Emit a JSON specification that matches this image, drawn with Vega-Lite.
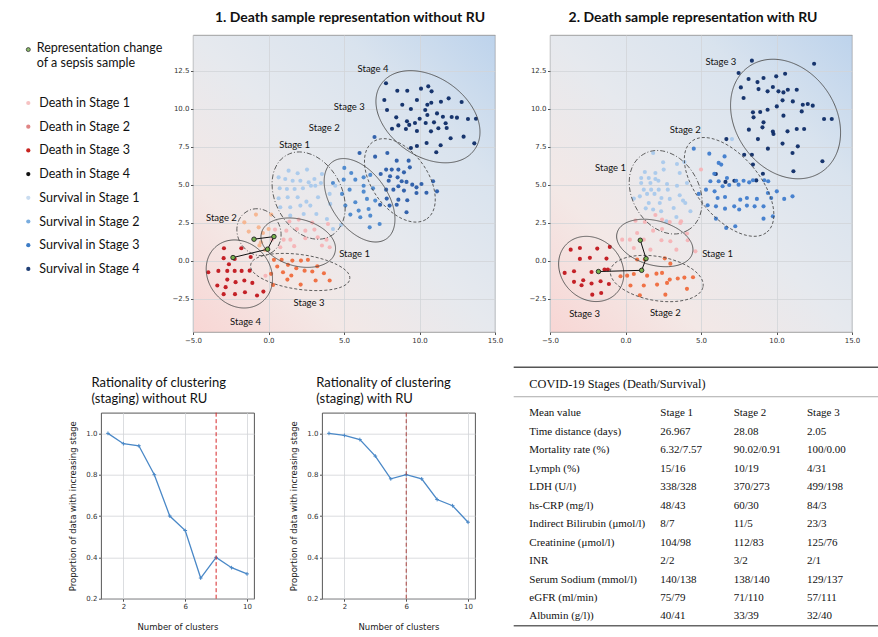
{
"$schema": "https://vega.github.io/schema/vega-lite/v6.json",
"padding": {"left": 20, "top": 10, "right": 0, "bottom": 0},
"background": "white",
"spacing": 12.7,
"resolve": {"scale": {"color": "independent", "shape": "independent", "strokeDash": "independent", "x": "independent", "y": "independent"}},
"config": {
  "view": {"stroke": null},
  "font": "Lato",
  "axis": {"labelFont": "DejaVu Sans", "labelFontSize": 7, "labelColor": "#333", "tickColor": "#555", "tickSize": 2.5, "labelPadding": 1.5, "domain": false, "grid": true, "gridColor": "#d2d4d8", "gridWidth": 0.8, "labelFlush": false, "labelOverlap": false, "titleFont": "DejaVu Sans", "titleFontSize": 8.5, "titleFontWeight": "normal", "titleColor": "#222"},
  "title": {"font": "Lato", "color": "#111", "frame": "group"}
},
"datasets": {
  "leg": [{"k":"Death in Stage 1"},{"k":"Death in Stage 2"},{"k":"Death in Stage 3"},{"k":"Death in Stage 4"},{"k":"Survival in Stage 1"},{"k":"Survival in Stage 2"},{"k":"Survival in Stage 3"},{"k":"Survival in Stage 4"}],
  "p1": [
{"k":"S4","x":7.78,"y":11.67},{"k":"S4","x":8.53,"y":11.18},{"k":"S4","x":9.19,"y":11.18},{"k":"S4","x":10.1,"y":11.32},{"k":"S4","x":10.58,"y":11.47},{"k":"S4","x":10.8,"y":11.14},{"k":"S4","x":7.67,"y":10.57},{"k":"S4","x":8.86,"y":10.26},{"k":"S4","x":9.83,"y":10.57},{"k":"S4","x":10.52,"y":10.26},{"k":"S4","x":10.78,"y":10.39},{"k":"S4","x":11.42,"y":10.46},{"k":"S4","x":11.93,"y":10.68},{"k":"S4","x":12.79,"y":10.44},{"k":"S4","x":7.85,"y":9.91},{"k":"S4","x":9.43,"y":9.98},{"k":"S4","x":10.38,"y":9.91},{"k":"S4","x":11.16,"y":9.69},{"k":"S4","x":8.46,"y":9.43},{"k":"S4","x":9.17,"y":9.17},{"k":"S4","x":10.01,"y":9.34},{"k":"S4","x":10.52,"y":9.58},{"k":"S4","x":11.55,"y":9.47},{"k":"S4","x":12.13,"y":9.45},{"k":"S4","x":12.48,"y":9.41},{"k":"S4","x":13.21,"y":9.32},{"k":"S4","x":13.74,"y":9.34},{"k":"S4","x":8.6,"y":8.9},{"k":"S4","x":9.32,"y":8.93},{"k":"S4","x":9.7,"y":9.06},{"k":"S4","x":10.41,"y":9.06},{"k":"S4","x":10.96,"y":9.1},{"k":"S4","x":11.73,"y":9.04},{"k":"S4","x":11.8,"y":8.73},{"k":"S4","x":8.18,"y":8.68},{"k":"S4","x":9.83,"y":8.53},{"k":"S4","x":10.76,"y":8.51},{"k":"S4","x":11.25,"y":8.71},{"k":"S4","x":12.06,"y":8.05},{"k":"S4","x":12.92,"y":8.16},{"k":"S4","x":13.63,"y":7.72},{"k":"S4","x":9.43,"y":7.41},{"k":"S4","x":9.83,"y":7.54},{"k":"S4","x":10.47,"y":7.74},{"k":"S4","x":11.4,"y":7.59},{"k":"S4","x":11.11,"y":7.13},{"k":"S4","x":9.1,"y":8.66},
{"k":"S3","x":6.03,"y":7.08},{"k":"S3","x":7.02,"y":8.14},{"k":"S3","x":7.87,"y":7.08},{"k":"S3","x":7.06,"y":6.84},{"k":"S3","x":8.49,"y":6.58},{"k":"S3","x":9.28,"y":6.58},{"k":"S3","x":7.79,"y":5.99},{"k":"S3","x":8.16,"y":5.99},{"k":"S3","x":8.6,"y":5.99},{"k":"S3","x":8.97,"y":5.81},{"k":"S3","x":9.36,"y":6.14},{"k":"S3","x":7.43,"y":5.7},{"k":"S3","x":8.05,"y":5.55},{"k":"S3","x":8.55,"y":5.48},{"k":"S3","x":8.82,"y":5.22},{"k":"S3","x":9.14,"y":5.18},{"k":"S3","x":9.52,"y":5.0},{"k":"S3","x":7.96,"y":5.26},{"k":"S3","x":8.6,"y":4.89},{"k":"S3","x":7.79,"y":4.67},{"k":"S3","x":8.27,"y":4.67},{"k":"S3","x":8.97,"y":4.61},{"k":"S3","x":9.8,"y":4.82},{"k":"S3","x":10.13,"y":5.04},{"k":"S3","x":10.9,"y":5.22},{"k":"S3","x":10.46,"y":4.47},{"k":"S3","x":7.83,"y":4.08},{"k":"S3","x":8.6,"y":4.01},{"k":"S3","x":9.19,"y":3.97},{"k":"S3","x":9.8,"y":4.45},{"k":"S3","x":9.14,"y":3.18},{"k":"S3","x":8.49,"y":3.68},{"k":"S3","x":7.39,"y":3.68},{"k":"S3","x":8.02,"y":3.62},{"k":"S3","x":11.16,"y":4.56},
{"k":"S2","x":4.27,"y":5.11},{"k":"S2","x":4.98,"y":5.33},{"k":"S2","x":5.75,"y":5.33},{"k":"S2","x":6.3,"y":5.48},{"k":"S2","x":6.74,"y":5.64},{"k":"S2","x":4.87,"y":4.39},{"k":"S2","x":5.37,"y":4.67},{"k":"S2","x":6.3,"y":4.54},{"k":"S2","x":6.92,"y":4.76},{"k":"S2","x":5.75,"y":3.84},{"k":"S2","x":6.52,"y":4.06},{"k":"S2","x":7.07,"y":3.95},{"k":"S2","x":5.97,"y":3.29},{"k":"S2","x":6.63,"y":3.4},{"k":"S2","x":6.08,"y":2.85},{"k":"S2","x":6.74,"y":2.96},{"k":"S2","x":7.36,"y":2.41},{"k":"S2","x":6.7,"y":2.19},{"k":"S2","x":5.09,"y":3.62},{"k":"S2","x":6.3,"y":4.93},{"k":"S2","x":5.02,"y":6.1},{"k":"S2","x":5.48,"y":5.77},{"k":"S2","x":5.42,"y":3.03},
{"k":"S1","x":1.33,"y":5.92},{"k":"S1","x":1.93,"y":5.75},{"k":"S1","x":2.55,"y":5.99},{"k":"S1","x":1.11,"y":5.37},{"k":"S1","x":1.6,"y":5.26},{"k":"S1","x":2.11,"y":5.26},{"k":"S1","x":2.66,"y":5.15},{"k":"S1","x":3.04,"y":5.37},{"k":"S1","x":3.47,"y":5.11},{"k":"S1","x":0.74,"y":4.76},{"k":"S1","x":1.22,"y":4.71},{"k":"S1","x":1.73,"y":4.71},{"k":"S1","x":2.28,"y":4.76},{"k":"S1","x":2.81,"y":4.93},{"k":"S1","x":3.1,"y":4.93},{"k":"S1","x":0.67,"y":4.1},{"k":"S1","x":1.27,"y":4.17},{"k":"S1","x":1.93,"y":4.17},{"k":"S1","x":2.51,"y":3.88},{"k":"S1","x":3.28,"y":4.17},{"k":"S1","x":4.05,"y":4.39},{"k":"S1","x":0.78,"y":3.51},{"k":"S1","x":1.44,"y":3.51},{"k":"S1","x":2.11,"y":3.62},{"k":"S1","x":2.77,"y":3.62},{"k":"S1","x":3.17,"y":3.07},{"k":"S1","x":1.44,"y":2.96},{"k":"S1","x":2.33,"y":3.07},{"k":"S1","x":4.09,"y":3.73},{"k":"S1","x":4.27,"y":2.08},{"k":"S1","x":4.8,"y":2.35},{"k":"S1","x":3.87,"y":2.74},{"k":"S1","x":4.42,"y":4.93},{"k":"S1","x":3.54,"y":5.7},{"k":"S1","x":0.67,"y":5.48},
{"k":"D1","x":1.38,"y":2.57},{"k":"D1","x":2.0,"y":2.7},{"k":"D1","x":0.43,"y":2.04},{"k":"D1","x":1.18,"y":1.97},{"k":"D1","x":1.88,"y":2.08},{"k":"D1","x":2.44,"y":1.97},{"k":"D1","x":3.04,"y":2.04},{"k":"D1","x":3.94,"y":2.41},{"k":"D1","x":0.23,"y":1.38},{"k":"D1","x":1.0,"y":1.38},{"k":"D1","x":1.45,"y":1.38},{"k":"D1","x":2.44,"y":1.47},{"k":"D1","x":3.26,"y":1.54},{"k":"D1","x":3.84,"y":1.38},{"k":"D1","x":4.05,"y":0.88},{"k":"D1","x":0.78,"y":0.88},{"k":"D1","x":3.54,"y":0.99},{"k":"D1","x":2.9,"y":2.5},{"k":"D1","x":1.7,"y":0.95},{"k":"D1","x":-0.2,"y":-1.0},
{"k":"D2","x":-0.83,"y":3.03},{"k":"D2","x":0.18,"y":3.03},{"k":"D2","x":-1.6,"y":2.52},{"k":"D2","x":-0.65,"y":2.19},{"k":"D2","x":-0.37,"y":1.82},{"k":"D2","x":-0.5,"y":1.21},{"k":"D2","x":0.01,"y":2.08},{"k":"D2","x":-0.6,"y":1.0},{"k":"D2","x":-0.23,"y":0.7},{"k":"D2","x":-1.31,"y":1.91},
{"k":"D3","x":0.36,"y":0.05},{"k":"D3","x":0.87,"y":0.05},{"k":"D3","x":1.58,"y":0.0},{"k":"D3","x":2.15,"y":0.0},{"k":"D3","x":2.61,"y":0.05},{"k":"D3","x":0.58,"y":-0.39},{"k":"D3","x":1.29,"y":-0.28},{"k":"D3","x":1.84,"y":-0.5},{"k":"D3","x":2.39,"y":-0.66},{"k":"D3","x":2.9,"y":-0.72},{"k":"D3","x":3.67,"y":-0.83},{"k":"D3","x":0.96,"y":-0.77},{"k":"D3","x":1.51,"y":-0.98},{"k":"D3","x":0.3,"y":-1.6},{"k":"D3","x":1.25,"y":-1.25},{"k":"D3","x":2.13,"y":-1.58},{"k":"D3","x":3.12,"y":-1.31},{"k":"D3","x":4.05,"y":-1.31},{"k":"D3","x":3.23,"y":-0.37},{"k":"D3","x":0.17,"y":-0.87},
{"k":"D4","x":-2.95,"y":0.81},{"k":"D4","x":-1.8,"y":0.81},{"k":"D4","x":-2.97,"y":0.16},{"k":"D4","x":-2.24,"y":0.11},{"k":"D4","x":-1.18,"y":0.24},{"k":"D4","x":-2.62,"y":-0.24},{"k":"D4","x":-3.99,"y":-0.77},{"k":"D4","x":-3.32,"y":-0.68},{"k":"D4","x":-2.73,"y":-0.68},{"k":"D4","x":-2.24,"y":-0.68},{"k":"D4","x":-1.78,"y":-0.68},{"k":"D4","x":-1.25,"y":-0.66},{"k":"D4","x":-2.73,"y":-1.25},{"k":"D4","x":-2.18,"y":-1.42},{"k":"D4","x":-1.6,"y":-1.31},{"k":"D4","x":-1.07,"y":-1.47},{"k":"D4","x":-3.39,"y":-1.64},{"k":"D4","x":-2.84,"y":-1.75},{"k":"D4","x":-2.97,"y":-2.21},{"k":"D4","x":-2.22,"y":-2.21},{"k":"D4","x":-1.56,"y":-2.08},{"k":"D4","x":-0.76,"y":-2.3},{"k":"D4","x":-0.34,"y":-2.04}
  ],
  "p2": [
{"k":"S3","x":8.37,"y":13.16},{"k":"S3","x":12.49,"y":12.96},{"k":"S3","x":7.49,"y":12.35},{"k":"S3","x":8.15,"y":11.95},{"k":"S3","x":8.74,"y":11.75},{"k":"S3","x":9.14,"y":12.02},{"k":"S3","x":9.98,"y":12.13},{"k":"S3","x":10.57,"y":12.3},{"k":"S3","x":9.76,"y":11.43},{"k":"S3","x":7.64,"y":11.4},{"k":"S3","x":7.82,"y":10.7},{"k":"S3","x":8.81,"y":11.29},{"k":"S3","x":9.41,"y":11.14},{"k":"S3","x":10.13,"y":11.14},{"k":"S3","x":10.46,"y":11.07},{"k":"S3","x":10.75,"y":11.25},{"k":"S3","x":11.34,"y":11.25},{"k":"S3","x":8.92,"y":9.78},{"k":"S3","x":9.41,"y":9.93},{"k":"S3","x":10.02,"y":10.15},{"k":"S3","x":10.4,"y":10.55},{"k":"S3","x":11.08,"y":10.48},{"k":"S3","x":11.74,"y":10.26},{"k":"S3","x":12.07,"y":10.31},{"k":"S3","x":12.4,"y":10.2},{"k":"S3","x":8.44,"y":9.76},{"k":"S3","x":8.48,"y":9.43},{"k":"S3","x":9.14,"y":9.1},{"k":"S3","x":10.46,"y":9.54},{"k":"S3","x":10.73,"y":8.51},{"k":"S3","x":11.34,"y":8.66},{"k":"S3","x":11.67,"y":9.82},{"k":"S3","x":13.15,"y":9.32},{"k":"S3","x":13.66,"y":9.32},{"k":"S3","x":8.17,"y":8.62},{"k":"S3","x":9.07,"y":8.77},{"k":"S3","x":9.76,"y":8.49},{"k":"S3","x":9.8,"y":8.33},{"k":"S3","x":11.83,"y":8.66},{"k":"S3","x":8.77,"y":8.0},{"k":"S3","x":9.43,"y":7.37},{"k":"S3","x":10.4,"y":7.7},{"k":"S3","x":11.41,"y":7.52},{"k":"S3","x":7.86,"y":6.97},{"k":"S3","x":8.37,"y":6.97},{"k":"S3","x":8.44,"y":6.32},{"k":"S3","x":9.1,"y":5.72},{"k":"S3","x":11.06,"y":7.08},{"k":"S3","x":11.12,"y":5.88},{"k":"S3","x":13.04,"y":6.54},{"k":"S3","x":5.98,"y":5.7},{"k":"S3","x":6.62,"y":5.18},{"k":"S3","x":7.21,"y":5.26},{"k":"S3","x":8.66,"y":5.28},{"k":"S3","x":6.68,"y":8.0},
{"k":"S2","x":4.52,"y":7.37},{"k":"S2","x":5.55,"y":7.04},{"k":"S2","x":6.56,"y":6.86},{"k":"S2","x":6.17,"y":6.43},{"k":"S2","x":6.34,"y":6.32},{"k":"S2","x":5.88,"y":5.72},{"k":"S2","x":6.72,"y":5.44},{"k":"S2","x":7.33,"y":5.26},{"k":"S2","x":7.82,"y":5.26},{"k":"S2","x":8.19,"y":5.15},{"k":"S2","x":5.62,"y":5.22},{"k":"S2","x":6.17,"y":5.22},{"k":"S2","x":4.85,"y":4.39},{"k":"S2","x":5.33,"y":4.67},{"k":"S2","x":5.9,"y":4.56},{"k":"S2","x":6.43,"y":4.89},{"k":"S2","x":6.87,"y":4.98},{"k":"S2","x":7.49,"y":5.0},{"k":"S2","x":8.44,"y":5.29},{"k":"S2","x":9.19,"y":5.29},{"k":"S2","x":9.45,"y":5.22},{"k":"S2","x":10.02,"y":4.56},{"k":"S2","x":6.1,"y":4.12},{"k":"S2","x":6.59,"y":4.19},{"k":"S2","x":7.6,"y":4.01},{"k":"S2","x":8.04,"y":4.12},{"k":"S2","x":8.7,"y":4.06},{"k":"S2","x":9.43,"y":4.45},{"k":"S2","x":9.65,"y":4.12},{"k":"S2","x":10.51,"y":4.06},{"k":"S2","x":11.06,"y":4.23},{"k":"S2","x":5.44,"y":3.64},{"k":"S2","x":5.99,"y":3.57},{"k":"S2","x":6.59,"y":3.42},{"k":"S2","x":7.2,"y":3.57},{"k":"S2","x":7.53,"y":3.36},{"k":"S2","x":8.04,"y":3.62},{"k":"S2","x":8.55,"y":3.57},{"k":"S2","x":9.14,"y":3.57},{"k":"S2","x":9.76,"y":2.92},{"k":"S2","x":5.99,"y":2.76},{"k":"S2","x":7.27,"y":2.26},{"k":"S2","x":6.67,"y":2.15},{"k":"S2","x":9.14,"y":2.76},
{"k":"S1","x":1.83,"y":7.08},{"k":"S1","x":2.49,"y":6.47},{"k":"S1","x":1.28,"y":5.83},{"k":"S1","x":1.98,"y":5.77},{"k":"S1","x":2.53,"y":5.99},{"k":"S1","x":3.41,"y":6.36},{"k":"S1","x":3.9,"y":6.49},{"k":"S1","x":1.04,"y":5.44},{"k":"S1","x":1.54,"y":5.44},{"k":"S1","x":1.98,"y":5.37},{"k":"S1","x":3.59,"y":5.77},{"k":"S1","x":1.04,"y":5.11},{"k":"S1","x":1.65,"y":5.11},{"k":"S1","x":2.18,"y":5.26},{"k":"S1","x":2.75,"y":5.04},{"k":"S1","x":3.41,"y":4.93},{"k":"S1","x":4.07,"y":5.11},{"k":"S1","x":1.7,"y":4.67},{"k":"S1","x":1.21,"y":4.67},{"k":"S1","x":2.2,"y":4.67},{"k":"S1","x":2.8,"y":4.67},{"k":"S1","x":3.59,"y":4.3},{"k":"S1","x":0.95,"y":4.23},{"k":"S1","x":1.43,"y":4.39},{"k":"S1","x":1.92,"y":4.39},{"k":"S1","x":2.38,"y":4.12},{"k":"S1","x":2.93,"y":4.06},{"k":"S1","x":3.81,"y":3.95},{"k":"S1","x":0.55,"y":4.08},{"k":"S1","x":1.54,"y":3.79},{"k":"S1","x":2.27,"y":3.79},{"k":"S1","x":3.19,"y":3.46},{"k":"S1","x":3.96,"y":3.79},{"k":"S1","x":4.3,"y":3.25},{"k":"S1","x":1.34,"y":3.44},{"k":"S1","x":1.83,"y":3.36},{"k":"S1","x":2.36,"y":3.25},{"k":"S1","x":3.37,"y":2.87},{"k":"S1","x":2.71,"y":2.59},{"k":"S1","x":7.05,"y":8.0},
{"k":"D1","x":0.66,"y":2.63},{"k":"D1","x":1.28,"y":2.54},{"k":"D1","x":1.83,"y":1.97},{"k":"D1","x":2.42,"y":2.08},{"k":"D1","x":2.93,"y":2.54},{"k":"D1","x":3.63,"y":2.48},{"k":"D1","x":0.29,"y":1.38},{"k":"D1","x":0.77,"y":1.82},{"k":"D1","x":1.21,"y":1.38},{"k":"D1","x":2.38,"y":1.34},{"k":"D1","x":2.97,"y":1.27},{"k":"D1","x":4.07,"y":1.78},{"k":"D1","x":4.12,"y":1.34},{"k":"D1","x":3.37,"y":0.72},{"k":"D1","x":4.63,"y":0.61},{"k":"D1","x":1.65,"y":0.72},{"k":"D1","x":0.55,"y":0.83},{"k":"D1","x":-0.22,"y":1.38},{"k":"D1","x":2.42,"y":2.7},{"k":"D1","x":3.68,"y":2.59},{"k":"D1","x":5.0,"y":6.0},{"k":"D1","x":1.98,"y":3.0},
{"k":"D2","x":0.77,"y":0.07},{"k":"D2","x":1.28,"y":0.07},{"k":"D2","x":2.6,"y":0.15},{"k":"D2","x":2.97,"y":-0.2},{"k":"D2","x":0.11,"y":-0.99},{"k":"D2","x":0.55,"y":-0.88},{"k":"D2","x":1.43,"y":-0.99},{"k":"D2","x":2.05,"y":-0.86},{"k":"D2","x":2.42,"y":-0.81},{"k":"D2","x":2.93,"y":-1.25},{"k":"D2","x":3.46,"y":-1.18},{"k":"D2","x":3.9,"y":-1.12},{"k":"D2","x":4.47,"y":-1.1},{"k":"D2","x":0.33,"y":-1.64},{"k":"D2","x":1.21,"y":-1.64},{"k":"D2","x":2.09,"y":-1.58},{"k":"D2","x":2.75,"y":-1.47},{"k":"D2","x":4.07,"y":-1.86},{"k":"D2","x":0.95,"y":-2.28},{"k":"D2","x":2.64,"y":-2.24},{"k":"D2","x":-0.33,"y":-1.03},
{"k":"D3","x":-3.63,"y":0.72},{"k":"D3","x":-3.02,"y":0.83},{"k":"D3","x":-1.87,"y":0.79},{"k":"D3","x":-1.04,"y":0.9},{"k":"D3","x":-3.02,"y":0.11},{"k":"D3","x":-2.36,"y":0.18},{"k":"D3","x":-1.26,"y":0.13},{"k":"D3","x":-4.03,"y":-0.81},{"k":"D3","x":-3.41,"y":-0.7},{"k":"D3","x":-2.25,"y":-0.75},{"k":"D3","x":-1.39,"y":-0.59},{"k":"D3","x":-1.17,"y":-0.59},{"k":"D3","x":-2.8,"y":-1.29},{"k":"D3","x":-3.41,"y":-1.4},{"k":"D3","x":-2.25,"y":-1.51},{"k":"D3","x":-1.65,"y":-1.36},{"k":"D3","x":-1.1,"y":-1.54},{"k":"D3","x":-2.91,"y":-1.62},{"k":"D3","x":-2.2,"y":-2.24},{"k":"D3","x":-1.61,"y":-2.13}
  ],
  "e1": [{"k":"D1","x":1.97,"y":1.18},{"k":"D2","x":-0.63,"y":1.87},{"k":"D3","x":2.1,"y":-0.75},{"k":"D4","x":-1.93,"y":-0.88},{"k":"S1","x":2.66,"y":4.28},{"k":"S2","x":6.03,"y":3.97},{"k":"S3","x":8.7,"y":5.28},{"k":"S4","x":10.56,"y":9.47}],
  "e2": [{"k":"D1","x":1.94,"y":1.16},{"k":"D2","x":2.07,"y":-1.18},{"k":"D3","x":-2.27,"y":-0.55},{"k":"S1","x":2.66,"y":4.5},{"k":"S2","x":6.86,"y":4.85},{"k":"S3","x":10.6,"y":9.32}],
  "t1": [{"t":"Stage 4","x":6.92,"y":12.6},{"t":"Stage 3","x":5.35,"y":10.1},{"t":"Stage 2","x":3.69,"y":8.73},{"t":"Stage 1","x":1.73,"y":7.63},{"t":"Stage 2","x":-3.12,"y":2.81},{"t":"Stage 1","x":5.7,"y":0.42},{"t":"Stage 3","x":2.68,"y":-2.79},{"t":"Stage 4","x":-1.52,"y":-4.01}],
  "t2": [{"t":"Stage 3","x":6.32,"y":13.07},{"t":"Stage 2","x":3.96,"y":8.62},{"t":"Stage 1","x":-0.99,"y":6.1},{"t":"Stage 1","x":6.1,"y":0.46},{"t":"Stage 3","x":-2.71,"y":-3.51},{"t":"Stage 2","x":2.64,"y":-3.44}],
  "g1": [{"x":-0.96,"y":1.41},{"x":0.36,"y":1.58},{"x":-0.06,"y":0.75},{"x":-2.35,"y":0.2}],
  "g2": [{"x":0.98,"y":1.34},{"x":1.36,"y":0.13},{"x":1.07,"y":-0.64},{"x":-1.79,"y":-0.72}],
  "s1": [{"x":-0.96,"y":1.41,"x2":0.36,"y2":1.58},{"x":0.36,"y":1.58,"x2":-0.06,"y2":0.75},{"x":-0.06,"y":0.75,"x2":-2.35,"y2":0.2}],
  "s2": [{"x":0.98,"y":1.34,"x2":1.36,"y2":0.13},{"x":1.36,"y":0.13,"x2":1.07,"y2":-0.64},{"x":1.07,"y":-0.64,"x2":-1.79,"y2":-0.72}],
  "r1": [{"n":1,"v":1.0},{"n":2,"v":0.95},{"n":3,"v":0.94},{"n":4,"v":0.8},{"n":5,"v":0.6},{"n":6,"v":0.53},{"n":7,"v":0.3},{"n":8,"v":0.4},{"n":9,"v":0.35},{"n":10,"v":0.32}],
  "r2": [{"n":1,"v":1.0},{"n":2,"v":0.99},{"n":3,"v":0.97},{"n":4,"v":0.89},{"n":5,"v":0.78},{"n":6,"v":0.8},{"n":7,"v":0.78},{"n":8,"v":0.68},{"n":9,"v":0.65},{"n":10,"v":0.57}],
  "tab": [
{"r":"Mean value","s1":"Stage 1","s2":"Stage 2","s3":"Stage 3"},
{"r":"Time distance (days)","s1":"26.967","s2":"28.08","s3":"2.05"},
{"r":"Mortality rate (%)","s1":"6.32/7.57","s2":"90.02/0.91","s3":"100/0.00"},
{"r":"Lymph (%)","s1":"15/16","s2":"10/19","s3":"4/31"},
{"r":"LDH (U/l)","s1":"338/328","s2":"370/273","s3":"499/198"},
{"r":"hs-CRP (mg/l)","s1":"48/43","s2":"60/30","s3":"84/3"},
{"r":"Indirect Bilirubin (μmol/l)","s1":"8/7","s2":"11/5","s3":"23/3"},
{"r":"Creatinine (μmol/l)","s1":"104/98","s2":"112/83","s3":"125/76"},
{"r":"INR","s1":"2/2","s2":"3/2","s3":"2/1"},
{"r":"Serum Sodium (mmol/l)","s1":"140/138","s2":"138/140","s3":"129/137"},
{"r":"eGFR (ml/min)","s1":"75/79","s2":"71/110","s3":"57/111"},
{"r":"Albumin (g/l))","s1":"40/41","s2":"33/39","s3":"32/40"}
  ]
},
"vconcat": [
{
"hconcat": [
{
  "width": 172.7, "height": 254,
  "layer": [
    {"data": {"name": "leg"}, "mark": {"type": "point", "filled": true, "size": 18, "opacity": 1},
     "encoding": {
       "x": {"datum": "s", "type": "nominal", "scale": {"type": "point", "domain": ["s", "t"], "range": [8.3, 19.3], "padding": 0}, "axis": null},
       "y": {"field": "k", "type": "nominal", "scale": {"type": "point", "domain": ["rep", "gap", "Death in Stage 1", "Death in Stage 2", "Death in Stage 3", "Death in Stage 4", "Survival in Stage 1", "Survival in Stage 2", "Survival in Stage 3", "Survival in Stage 4"], "range": [20.6, 233.9], "padding": 0}, "axis": null},
       "color": {"field": "k", "type": "nominal", "scale": {"domain": ["Death in Stage 1", "Death in Stage 2", "Death in Stage 3", "Death in Stage 4", "Survival in Stage 1", "Survival in Stage 2", "Survival in Stage 3", "Survival in Stage 4"], "range": ["#f6c2c2", "#e08585", "#c82420", "#111111", "#c9dcf0", "#79addf", "#3d7cc6", "#1f3f75"]}, "legend": null}
     }},
    {"data": {"name": "leg"}, "mark": {"type": "text", "align": "left", "baseline": "middle", "fontSize": 12.5, "color": "#111"},
     "encoding": {"x": {"datum": "t", "type": "nominal"}, "y": {"field": "k", "type": "nominal"}, "text": {"field": "k"}}},
    {"data": {"values": [{"k": "rep"}]}, "mark": {"type": "point", "filled": true, "size": 16, "color": "#8bbb6a", "stroke": "#333", "strokeWidth": 0.8, "opacity": 1},
     "encoding": {"x": {"datum": "s", "type": "nominal"}, "y": {"field": "k", "type": "nominal"}, "yOffset": {"value": -6}}},
    {"data": {"values": [{"k": "rep"}]}, "mark": {"type": "text", "align": "left", "baseline": "top", "fontSize": 12.5, "lineHeight": 15.7, "dy": -14, "dx": -2.5, "color": "#111", "text": ["Representation change", "of a sepsis sample"]},
     "encoding": {"x": {"datum": "t", "type": "nominal"}, "y": {"field": "k", "type": "nominal"}}}
  ]
},
{
  "width": 302, "height": 297,
  "title": {"text": "1. Death sample representation without RU", "fontSize": 14, "fontWeight": "bold", "offset": 10, "dx": 6},
  "view": {"fill": {"gradient": "linear", "x1": 0, "y1": 1, "x2": 1, "y2": 0, "stops": [{"offset": 0, "color": "#f8d6d4"}, {"offset": 0.25, "color": "#f3e8e6"}, {"offset": 0.5, "color": "#e6e9ee"}, {"offset": 0.75, "color": "#d9e3ee"}, {"offset": 1, "color": "#bdd3ec"}]}, "stroke": "#8a8a8a", "strokeWidth": 0.8},
  "layer": [
    {"data": {"name": "p1"}, "mark": {"type": "point", "filled": true, "size": 17, "opacity": 0.95},
     "encoding": {
       "x": {"field": "x", "type": "quantitative", "scale": {"domain": [-5, 15], "nice": false, "zero": false}, "axis": {"values": [-5, -2.5, 0, 2.5, 5, 7.5, 10, 12.5, 15], "format": ".1f", "title": null}},
       "y": {"field": "y", "type": "quantitative", "scale": {"domain": [-4.7, 14.85], "nice": false, "zero": false}, "axis": {"values": [-2.5, 0, 2.5, 5, 7.5, 10, 12.5], "format": ".1f", "title": null}},
       "color": {"field": "k", "type": "nominal", "scale": {"domain": ["D1", "D2", "D3", "D4", "S1", "S2", "S3", "S4"], "range": ["#f5b3b6", "#f5b48e", "#ef6b3d", "#c1161c", "#a9c9ec", "#4a87cc", "#2a5ca8", "#0d2b66"]}, "legend": null}
     }},
    {"data": {"name": "e1"}, "mark": {"type": "point", "filled": false, "size": 4, "strokeWidth": 0.9, "color": "#4d4d4d", "opacity": 1},
     "encoding": {
       "x": {"field": "x", "type": "quantitative"},
       "y": {"field": "y", "type": "quantitative"},
       "shape": {"field": "k", "type": "nominal", "legend": null, "scale": {"domain": ["D1", "D2", "D3", "D4", "S1", "S2", "S3", "S4"], "range": [
         "M 36.7 9.83 A 38 23 15 1 0 -36.7 -9.83 A 38 23 15 1 0 36.7 9.83 Z",
         "M 12 20.78 A 24 21 60 1 0 -12 -20.78 A 24 21 60 1 0 12 20.78 Z",
         "M 49.5 6.96 A 50 17 8 1 0 -49.5 -6.96 A 50 17 8 1 0 49.5 6.96 Z",
         "M 23.14 27.58 A 36 31 50 1 0 -23.14 -27.58 A 36 31 50 1 0 23.14 27.58 Z",
         "M 21.6 40.61 A 46 33 62 1 0 -21.6 -40.61 A 46 33 62 1 0 21.6 40.61 Z",
         "M 26.96 38.5 A 47 28 55 1 0 -26.96 -38.5 A 47 28 55 1 0 26.96 38.5 Z",
         "M 26.96 38.51 A 47 28 55 1 0 -26.96 -38.51 A 47 28 55 1 0 26.96 38.51 Z",
         "M 46.69 32.69 A 57 39 35 1 0 -46.69 -32.69 A 57 39 35 1 0 46.69 32.69 Z"]}},
       "strokeDash": {"field": "k", "type": "nominal", "legend": null, "scale": {"domain": ["D1", "D2", "D3", "D4", "S1", "S2", "S3", "S4"], "range": [[1, 0], [5, 2, 1, 2], [3, 2], [1, 0], [5, 2, 1, 2], [1, 0], [3, 2], [1, 0]]}}
     }},
    {"data": {"name": "s1"}, "mark": {"type": "rule", "color": "#111", "strokeWidth": 1},
     "encoding": {"x": {"field": "x", "type": "quantitative"}, "y": {"field": "y", "type": "quantitative"}, "x2": {"field": "x2"}, "y2": {"field": "y2"}}},
    {"data": {"name": "g1"}, "mark": {"type": "point", "filled": true, "size": 20, "color": "#76b24c", "stroke": "#222", "strokeWidth": 0.9, "opacity": 1},
     "encoding": {"x": {"field": "x", "type": "quantitative"}, "y": {"field": "y", "type": "quantitative"}}},
    {"data": {"name": "t1"}, "mark": {"type": "text", "fontSize": 9.5, "color": "#111"},
     "encoding": {"x": {"field": "x", "type": "quantitative"}, "y": {"field": "y", "type": "quantitative"}, "text": {"field": "t"}}}
  ]
},
{"width": 54.3, "height": 318, "data": {"values": []}, "mark": "point"},
{
  "width": 302, "height": 297,
  "title": {"text": "2. Death sample representation with RU", "fontSize": 14, "fontWeight": "bold", "offset": 10, "dx": -8},
  "view": {"fill": {"gradient": "linear", "x1": 0, "y1": 1, "x2": 1, "y2": 0, "stops": [{"offset": 0, "color": "#f8d6d4"}, {"offset": 0.25, "color": "#f3e8e6"}, {"offset": 0.5, "color": "#e6e9ee"}, {"offset": 0.75, "color": "#d9e3ee"}, {"offset": 1, "color": "#bdd3ec"}]}, "stroke": "#8a8a8a", "strokeWidth": 0.8},
  "layer": [
    {"data": {"name": "p2"}, "mark": {"type": "point", "filled": true, "size": 17, "opacity": 0.95},
     "encoding": {
       "x": {"field": "x", "type": "quantitative", "scale": {"domain": [-5, 15], "nice": false, "zero": false}, "axis": {"values": [-5, -2.5, 0, 2.5, 5, 7.5, 10, 12.5, 15], "format": ".1f", "title": null}},
       "y": {"field": "y", "type": "quantitative", "scale": {"domain": [-4.7, 14.85], "nice": false, "zero": false}, "axis": {"values": [-2.5, 0, 2.5, 5, 7.5, 10, 12.5], "format": ".1f", "title": null}},
       "color": {"field": "k", "type": "nominal", "scale": {"domain": ["D1", "D2", "D3", "S1", "S2", "S3"], "range": ["#f5b3b6", "#ef6b3d", "#c1161c", "#a9c9ec", "#3f7ccc", "#0d2b66"]}, "legend": null}
     }},
    {"data": {"name": "e2"}, "mark": {"type": "point", "filled": false, "size": 4, "strokeWidth": 0.9, "color": "#4d4d4d", "opacity": 1},
     "encoding": {
       "x": {"field": "x", "type": "quantitative"},
       "y": {"field": "y", "type": "quantitative"},
       "shape": {"field": "k", "type": "nominal", "legend": null, "scale": {"domain": ["D1", "D2", "D3", "S1", "S2", "S3"], "range": [
         "M 37.67 10.09 A 39 22 15 1 0 -37.67 -10.09 A 39 22 15 1 0 37.67 10.09 Z",
         "M 46.29 8.16 A 47 22 10 1 0 -46.29 -8.16 A 47 22 10 1 0 46.29 8.16 Z",
         "M 24.75 24.75 A 35 30 45 1 0 -24.75 -24.75 A 35 30 45 1 0 24.75 24.75 Z",
         "M 22 38.1 A 44 33 60 1 0 -22 -38.1 A 44 33 60 1 0 22 38.1 Z",
         "M 37.93 45.2 A 59 31 50 1 0 -37.93 -45.2 A 59 31 50 1 0 37.93 45.2 Z",
         "M 36.71 52.43 A 64 50 55 1 0 -36.71 -52.43 A 64 50 55 1 0 36.71 52.43 Z"]}},
       "strokeDash": {"field": "k", "type": "nominal", "legend": null, "scale": {"domain": ["D1", "D2", "D3", "S1", "S2", "S3"], "range": [[1, 0], [3, 2], [1, 0], [5, 2, 1, 2], [3, 2], [1, 0]]}}
     }},
    {"data": {"name": "s2"}, "mark": {"type": "rule", "color": "#111", "strokeWidth": 1},
     "encoding": {"x": {"field": "x", "type": "quantitative"}, "y": {"field": "y", "type": "quantitative"}, "x2": {"field": "x2"}, "y2": {"field": "y2"}}},
    {"data": {"name": "g2"}, "mark": {"type": "point", "filled": true, "size": 20, "color": "#76b24c", "stroke": "#222", "strokeWidth": 0.9, "opacity": 1},
     "encoding": {"x": {"field": "x", "type": "quantitative"}, "y": {"field": "y", "type": "quantitative"}}},
    {"data": {"name": "t2"}, "mark": {"type": "text", "fontSize": 9.5, "color": "#111"},
     "encoding": {"x": {"field": "x", "type": "quantitative"}, "y": {"field": "y", "type": "quantitative"}, "text": {"field": "t"}}}
  ]
}
],
"spacing": 0,
"bounds": "flush",
"resolve": {"scale": {"color": "independent", "shape": "independent", "strokeDash": "independent", "x": "independent", "y": "independent"}}
},
{
"hconcat": [
{"width": 81, "height": 10, "data": {"values": []}, "mark": "point"},
{
  "width": 153, "height": 186,
  "title": {"text": ["Rationality of clustering", "(staging) without RU"], "anchor": "start", "dx": -9.5, "fontSize": 13, "fontWeight": "normal", "lineHeight": 16, "offset": 6.5},
  "view": {"stroke": "#444", "strokeWidth": 0.9},
  "layer": [
    {"data": {"name": "r1"}, "mark": {"type": "line", "color": "#4a88c7", "strokeWidth": 1.3},
     "encoding": {
       "x": {"field": "n", "type": "quantitative", "scale": {"domain": [0.55, 10.45], "nice": false, "zero": false}, "axis": {"values": [2, 4, 6, 8, 10], "format": "d", "title": "Number of clusters", "titlePadding": 13}},
       "y": {"field": "v", "type": "quantitative", "scale": {"domain": [0.2, 1.1], "nice": false, "zero": false}, "axis": {"values": [0.2, 0.4, 0.6, 0.8, 1.0], "format": ".1f", "title": "Proportion of data with increasing stage", "titlePadding": 8}}
     }},
    {"data": {"name": "r1"}, "mark": {"type": "point", "shape": "M -1 0 L 1 0 M 0 -1 L 0 1", "filled": false, "size": 14, "color": "#4a88c7", "strokeWidth": 1, "opacity": 1},
     "encoding": {"x": {"field": "n", "type": "quantitative"}, "y": {"field": "v", "type": "quantitative"}}},
    {"data": {"values": [{}]}, "mark": {"type": "rule", "color": "#d62728", "strokeDash": [4, 2.5], "strokeWidth": 1},
     "encoding": {"x": {"datum": 8, "type": "quantitative"}}}
  ]
},
{"width": 67.7, "height": 10, "data": {"values": []}, "mark": "point"},
{
  "width": 153, "height": 186,
  "title": {"text": ["Rationality of clustering", "(staging) with RU"], "anchor": "start", "dx": -5.7, "fontSize": 13, "fontWeight": "normal", "lineHeight": 16, "offset": 6.5},
  "view": {"stroke": "#444", "strokeWidth": 0.9},
  "layer": [
    {"data": {"name": "r2"}, "mark": {"type": "line", "color": "#4a88c7", "strokeWidth": 1.3},
     "encoding": {
       "x": {"field": "n", "type": "quantitative", "scale": {"domain": [0.55, 10.45], "nice": false, "zero": false}, "axis": {"values": [2, 4, 6, 8, 10], "format": "d", "title": "Number of clusters", "titlePadding": 13}},
       "y": {"field": "v", "type": "quantitative", "scale": {"domain": [0.2, 1.1], "nice": false, "zero": false}, "axis": {"values": [0.2, 0.4, 0.6, 0.8, 1.0], "format": ".1f", "title": "Proportion of data with increasing stage", "titlePadding": 8}}
     }},
    {"data": {"name": "r2"}, "mark": {"type": "point", "shape": "M -1 0 L 1 0 M 0 -1 L 0 1", "filled": false, "size": 14, "color": "#4a88c7", "strokeWidth": 1, "opacity": 1},
     "encoding": {"x": {"field": "n", "type": "quantitative"}, "y": {"field": "v", "type": "quantitative"}}},
    {"data": {"values": [{}]}, "mark": {"type": "rule", "color": "#a8403c", "strokeDash": [4, 2.5], "strokeWidth": 1},
     "encoding": {"x": {"datum": 6, "type": "quantitative"}}}
  ]
},
{
  "width": 404, "height": 213,
  "layer": [
    {"data": {"name": "tab"}, "mark": {"type": "text", "align": "left", "baseline": "middle", "font": "Liberation Serif", "fontSize": 11, "color": "#111", "dx": 15.6},
     "encoding": {
       "x": {"datum": "Mean value", "type": "nominal", "scale": {"type": "point", "domain": ["Mean value", "_g", "Stage 1", "Stage 2", "Stage 3", "_R"], "range": [38.7, 405.3], "padding": 0}, "axis": null},
       "y": {"field": "r", "type": "nominal", "bandPosition": 0.5, "scale": {"type": "band", "domain": ["_top", "_title", "Mean value", "Time distance (days)", "Mortality rate (%)", "Lymph (%)", "LDH (U/l)", "hs-CRP (mg/l)", "Indirect Bilirubin (μmol/l)", "Creatinine (μmol/l)", "INR", "Serum Sodium (mmol/l)", "eGFR (ml/min)", "Albumin (g/l))"], "range": [-45.5, 213], "paddingInner": 0, "paddingOuter": 0}, "axis": null},
       "text": {"field": "r"}
     }},
    {"data": {"name": "tab"}, "mark": {"type": "text", "align": "left", "baseline": "middle", "font": "Liberation Serif", "fontSize": 11, "color": "#111"},
     "encoding": {"x": {"datum": "Stage 1", "type": "nominal"}, "y": {"field": "r", "type": "nominal", "bandPosition": 0.5}, "text": {"field": "s1"}}},
    {"data": {"name": "tab"}, "mark": {"type": "text", "align": "left", "baseline": "middle", "font": "Liberation Serif", "fontSize": 11, "color": "#111"},
     "encoding": {"x": {"datum": "Stage 2", "type": "nominal"}, "y": {"field": "r", "type": "nominal", "bandPosition": 0.5}, "text": {"field": "s2"}}},
    {"data": {"name": "tab"}, "mark": {"type": "text", "align": "left", "baseline": "middle", "font": "Liberation Serif", "fontSize": 11, "color": "#111"},
     "encoding": {"x": {"datum": "Stage 3", "type": "nominal"}, "y": {"field": "r", "type": "nominal", "bandPosition": 0.5}, "text": {"field": "s3"}}},
    {"data": {"values": [{}]}, "mark": {"type": "text", "align": "left", "baseline": "middle", "font": "Liberation Serif", "fontSize": 12.3, "color": "#111", "dx": 15.6, "text": "COVID-19 Stages (Death/Survival)"},
     "encoding": {"x": {"datum": "Mean value", "type": "nominal"}, "y": {"datum": "_top", "type": "nominal", "bandPosition": 0.9}}},
    {"data": {"values": [{}]}, "mark": {"type": "rule", "color": "#555", "strokeWidth": 1.6},
     "encoding": {"x": {"datum": "Mean value", "type": "nominal"}, "x2": {"datum": "_R"}, "y": {"datum": "_top", "type": "nominal", "bandPosition": 0}}},
    {"data": {"values": [{}]}, "mark": {"type": "rule", "color": "#aaa", "strokeWidth": 1},
     "encoding": {"x": {"datum": "Mean value", "type": "nominal"}, "x2": {"datum": "_R"}, "y": {"datum": "_title", "type": "nominal", "bandPosition": 0.6}}},
    {"data": {"values": [{}]}, "mark": {"type": "rule", "color": "#666", "strokeWidth": 1.6},
     "encoding": {"x": {"datum": "Mean value", "type": "nominal"}, "x2": {"datum": "_R"}, "y": {"datum": "Albumin (g/l))", "type": "nominal", "bandPosition": 1}}}
  ]
}
],
"spacing": 0,
"bounds": "flush",
"resolve": {"scale": {"x": "independent", "y": "independent"}}
}
]
}
